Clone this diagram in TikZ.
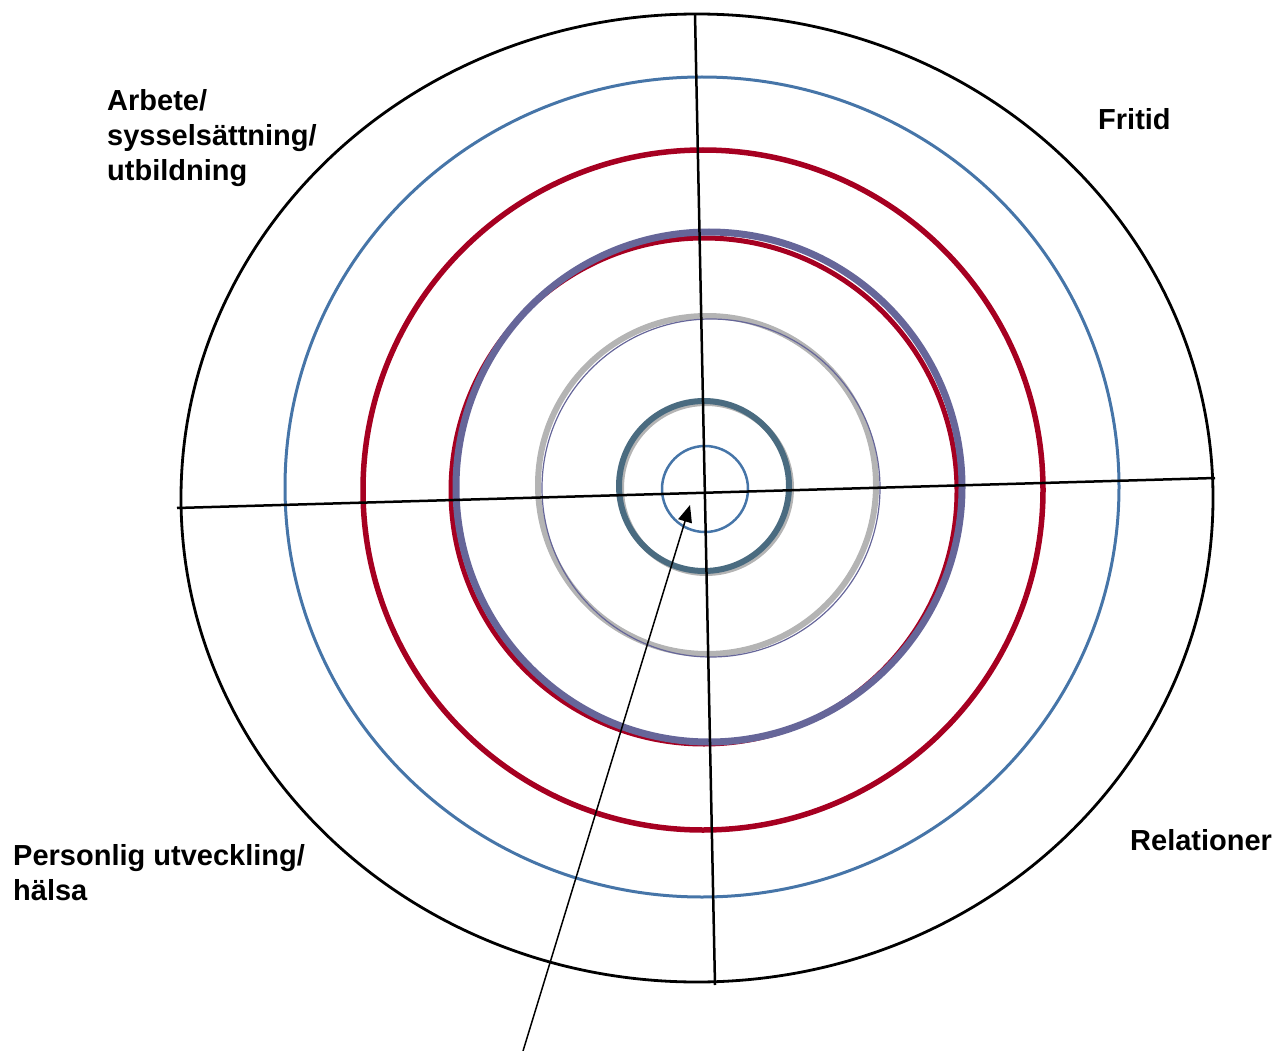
\documentclass[tikz,border=0pt]{standalone}
\usepackage{fontspec}
\setmainfont{Liberation Sans}
\usetikzlibrary{arrows.meta}
\definecolor{ringblue}{RGB}{70,117,168}
\definecolor{ringred}{RGB}{166,0,33}
\definecolor{ringpurple}{RGB}{102,102,153}
\definecolor{ringgray}{RGB}{180,180,180}
\definecolor{ringteal}{RGB}{74,107,128}
\tikzset{>=Triangle,
  area/.style={font=\bfseries\fontsize{29}{35}\selectfont,align=left,inner sep=0pt,anchor=north west}}

\begin{document}
\begin{tikzpicture}[x=1pt,y=-1pt]
\useasboundingbox (0,0) rectangle (1277,1051);
% rings, outside in
\draw[line width=2.8pt] (697,498) ellipse[x radius=516,y radius=484];
\draw[ringblue,line width=3pt] (702,487) ellipse[x radius=417,y radius=410];
\draw[ringred,line width=5.5pt] (703,490) circle[radius=340];
\draw[ringred,line width=5pt] (704,491) circle[radius=253];
\draw[ringpurple,line width=7pt] (709,487) ellipse[x radius=253,y radius=255];
\draw[ringgray,line width=6pt] (707,485) circle[radius=169];
\draw[ringpurple,line width=1.2pt] (711,488) circle[radius=169];
\draw[ringgray,line width=6pt] (706,488) circle[radius=85];
\draw[ringteal,line width=6pt] (704,486) circle[radius=85];
\draw[ringblue,line width=2.5pt] (705,489) circle[radius=43];
% axes
\coordinate (N) at (695,14);
\coordinate (S) at (715,985);
\coordinate (W) at (177,508);
\coordinate (E) at (1215,478);
\draw[line width=2.5pt] (N) -- (S);
\draw[line width=2.5pt] (W) -- (E);
% pointer to the centre
\coordinate (tail) at (523,1051);
\coordinate (tip) at (690,505);
\draw[->,>={Triangle[length=17pt,width=14pt]},line width=1.5pt] (tail) -- (tip);
% life areas
\node[area] (arbete) at (107,89) {Arbete/\\sysselsättning/\\utbildning};
\node[area] (fritid) at (1098,108) {Fritid};
\node[area] (personlig) at (13,844) {Personlig utveckling/\\hälsa};
\node[area] (relationer) at (1130,829) {Relationer};
\end{tikzpicture}
\end{document}
